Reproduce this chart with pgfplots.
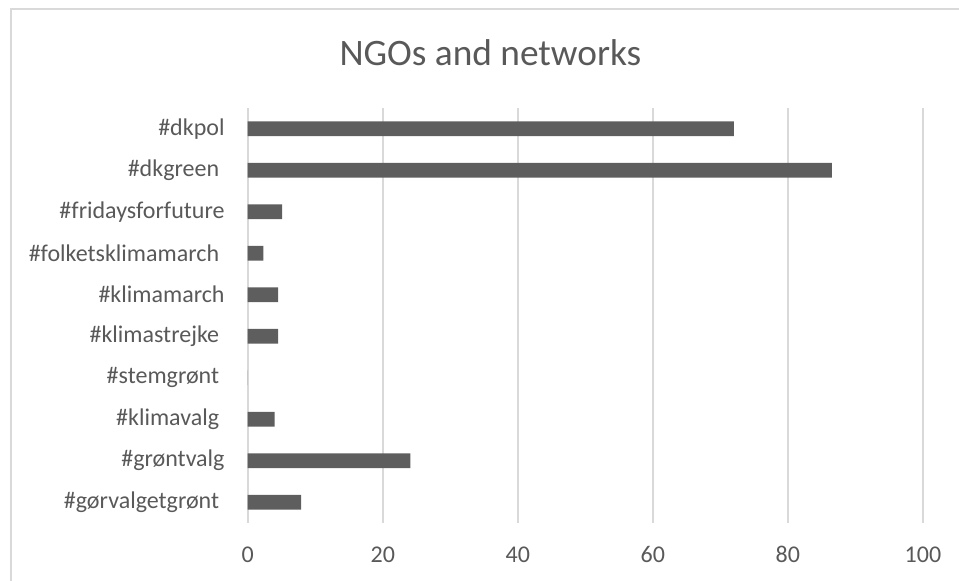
\documentclass[border=0pt]{standalone}
\usepackage{pgfplots}
\pgfplotsset{compat=1.18}
\usepackage{fontspec}
\setmainfont{Carlito}
\definecolor{txtgray}{HTML}{595959}
\definecolor{bargray}{HTML}{5E5E5E}
\definecolor{gridgray}{HTML}{D9D9D9}
% trailing blank kept after some hashtags
\newcommand{\tsp}{\kern0.226em}

\begin{document}
\begin{tikzpicture}
% page frame: 959 x 580 px at 0.375 pt per px
\clip (0,0) rectangle (359.625pt,-217.5pt);
% chart area border
\draw[gridgray, line width=0.75pt] (4.125pt,-230pt) -- (4.125pt,-3.375pt) -- (370pt,-3.375pt);
% chart title
\node[anchor=base, text=txtgray, font=\fontsize{14}{16}\selectfont, inner sep=0pt]
  at (183.9pt,-24.4pt) {NGOs and networks};
\begin{axis}[
  at={(92.9pt,-196.1pt)}, anchor=south west,
  scale only axis,
  width=253.2pt, height=155.6pt,
  xbar, bar width=5.5pt,
  xmin=0, xmax=100,
  ymin=-0.5, ymax=9.5,
  xtick={0,20,40,60,80,100},
  ytick={0,...,9},
  yticklabels={%
    {\#gørvalgetgrønt\tsp},
    {\#grøntvalg},
    {\#klimavalg\tsp},
    {\#stemgrønt\tsp},
    {\#klimastrejke\tsp},
    {\#klimamarch},
    {\#folketsklimamarch\tsp},
    {\#fridaysforfuture},
    {\#dkgreen\tsp},
    {\#dkpol}},
  axis line style={draw=none},
  major tick length=0pt,
  xmajorgrids,
  grid style={gridgray, line width=0.75pt},
  tick label style={text=txtgray, font=\fontsize{9}{11}\selectfont},
  /pgf/number format/assume math mode=true,
  yticklabel style={anchor=east, inner sep=0pt, xshift=-8.5pt},
  xticklabel style={anchor=base, inner sep=0pt, yshift=-15pt},
  enlargelimits=false,
  clip=false,
]
\addplot[fill=bargray, draw=none] coordinates {
  (7.9,0) (24.1,1) (4.0,2) (0,3) (4.5,4) (4.5,5) (2.3,6) (5.1,7) (86.5,8) (72,9)
};
\end{axis}
\end{tikzpicture}
\end{document}
